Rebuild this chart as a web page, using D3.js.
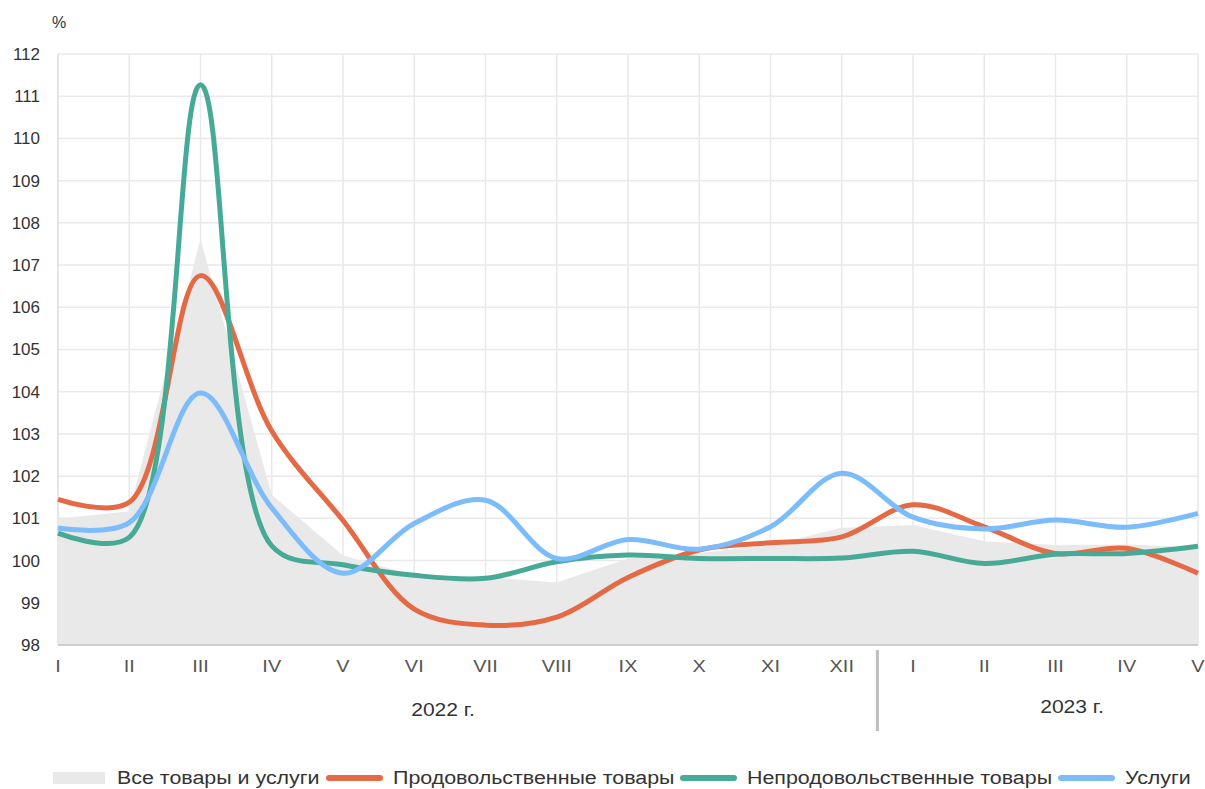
<!DOCTYPE html>
<html lang="ru">

<head>
    <meta charset="UTF-8">
    <title>Индексы потребительских цен</title>
    <script src="https://cdn.jsdelivr.net/npm/d3@7"></script>
</head>

<body>
    <script>
        // месяцы: I.2022 ... V.2023
        const months = ["I", "II", "III", "IV", "V", "VI", "VII", "VIII", "IX", "X", "XI", "XII", "I", "II", "III", "IV", "V"];
        const allGoods = [100.99, 101.17, 107.61, 101.56, 100.12, 99.65, 99.61, 99.48, 100.05, 100.18, 100.37, 100.78, 100.84, 100.46, 100.37, 100.38, 100.31];
        const food = [101.45, 101.38, 106.75, 103.07, 100.95, 98.85, 98.47, 98.66, 99.6, 100.25, 100.42, 100.56, 101.32, 100.8, 100.17, 100.29, 99.7];
        const nonFood = [100.65, 100.55, 111.27, 100.35, 99.9, 99.65, 99.58, 99.97, 100.13, 100.05, 100.05, 100.06, 100.22, 99.93, 100.15, 100.17, 100.34];
        const services = [100.77, 100.9, 103.97, 101.25, 99.7, 100.88, 101.43, 100.05, 100.5, 100.27, 100.8, 102.07, 101.03, 100.75, 100.96, 100.79, 101.12];
        const yTicks = d3.range(98, 113);
        const years = [{ label: "2022 г.", from: 0, to: 11 }, { label: "2023 г.", from: 12, to: 16 }];

        const width = 1205, height = 789;
        const margin = { left: 58, right: 7, top: 54, bottom: 144 };
        const font = "'Liberation Sans', Arial, sans-serif";

        const svg = d3.select("body").append("svg").attr("width", width).attr("height", height)
            .style("font-family", font);

        const x = d3.scaleLinear().domain([0, months.length - 1]).range([margin.left, width - margin.right]);
        const y = d3.scaleLinear().domain([98, 112]).range([height - margin.bottom, margin.top]);

        // подпись, растянутая по горизонтали (шрифт в оригинале чуть шире)
        const label = (sel, tx, ty, k = 1.17) => sel.attr("transform", (d, i) => `translate(${tx(d, i)},${ty(d, i)}) scale(${k},1)`);

        // сетка
        svg.append("g")
            .selectAll("line")
            .data(yTicks)
            .join("line")
            .attr("x1", margin.left).attr("x2", width - margin.right)
            .attr("y1", d => y(d)).attr("y2", d => y(d))
            .attr("stroke", "#e9e9e9").attr("stroke-width", 1.5);

        svg.append("g")
            .selectAll("line")
            .data(d3.range(months.length))
            .join("line")
            .attr("x1", d => x(d)).attr("x2", d => x(d))
            .attr("y1", y(98)).attr("y2", y(112))
            .attr("stroke", d => d === 0 ? "#dcdcdc" : "#e9e9e9").attr("stroke-width", 1.5);

        // все товары и услуги — область
        svg.append("path")
            .datum(allGoods)
            .attr("fill", "#e9e9e9")
            .attr("d", d3.area().x((d, i) => x(i)).y0(y(98)).y1(d => y(d)));

        svg.append("line")
            .attr("x1", margin.left).attr("x2", width - margin.right)
            .attr("y1", y(98)).attr("y2", y(98))
            .attr("stroke", "#cfcfcf").attr("stroke-width", 2);

        const series = [
            { name: "Продовольственные товары", values: food, color: "#e46a45" },
            { name: "Непродовольственные товары", values: nonFood, color: "#47aa96" },
            { name: "Услуги", values: services, color: "#7dbcfb" }
        ];

        const line = d3.line().x((d, i) => x(i)).y(d => y(d)).curve(d3.curveCatmullRom.alpha(0.5));

        svg.append("g")
            .selectAll("path")
            .data(series)
            .join("path")
            .attr("fill", "none")
            .attr("stroke", d => d.color)
            .attr("stroke-width", 5)
            .attr("stroke-linejoin", "round")
            .attr("d", d => line(d.values));

        // оси
        svg.append("g")
            .selectAll("text")
            .data(yTicks)
            .join("text")
            .attr("x", 40).attr("y", d => y(d))
            .attr("text-anchor", "end").attr("dy", "0.35em")
            .attr("font-size", 17).attr("fill", "#333")
            .text(d => d);

        svg.append("text")
            .attr("x", 52).attr("y", 28)
            .attr("font-size", 16).attr("fill", "#333")
            .text("%");

        svg.append("g")
            .selectAll("text")
            .data(months)
            .join("text")
            .call(label, (d, i) => x(i), () => 666)
            .attr("text-anchor", "middle").attr("dy", "0.35em")
            .attr("font-size", 17).attr("fill", "#555")
            .text(d => d);

        svg.append("line")
            .attr("x1", (x(11) + x(12)) / 2).attr("x2", (x(11) + x(12)) / 2)
            .attr("y1", 650).attr("y2", 731)
            .attr("stroke", "#bdbdbd").attr("stroke-width", 3);

        svg.append("g")
            .selectAll("text")
            .data(years)
            .join("text")
            .call(label, d => d.from === 0 ? 443 : 1072, (d, i) => i === 0 ? 710 : 707)
            .attr("text-anchor", "middle").attr("dy", "0.35em")
            .attr("font-size", 18).attr("fill", "#333")
            .text(d => d.label);

        // легенда
        const legend = [
            { name: "Все товары и услуги", color: "#e9e9e9", x: 53, area: true },
            { name: series[0].name, color: series[0].color, x: 326 },
            { name: series[1].name, color: series[1].color, x: 680 },
            { name: series[2].name, color: series[2].color, x: 1058 }
        ];

        const lg = svg.append("g")
            .selectAll("g")
            .data(legend)
            .join("g")
            .attr("transform", d => `translate(${d.x},778)`);

        lg.append("rect")
            .attr("x", 0).attr("y", d => d.area ? -6 : -3)
            .attr("width", d => d.area ? 52 : 57).attr("height", d => d.area ? 12 : 6)
            .attr("rx", d => d.area ? 0 : 3)
            .attr("fill", d => d.color);

        lg.append("text")
            .call(label, d => d.area ? 64 : 67, () => 0, 1.19)
            .attr("dy", "0.35em")
            .attr("font-size", 18).attr("fill", "#333")
            .text(d => d.name);
    </script>
    <style>
        * {
            margin: 0;
            padding: 0;
        }
    </style>
</body>

</html>
